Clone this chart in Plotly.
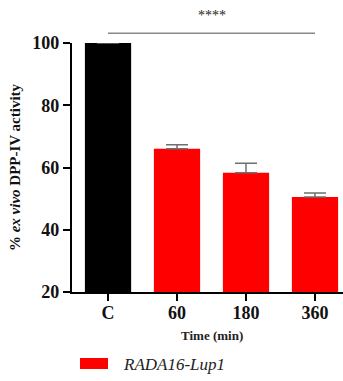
import plotly.graph_objects as go

categories = ["C", "60", "180", "360"]
values = [100.0, 66.0, 58.3, 50.5]
errors = [0.0, 1.3, 3.1, 1.3]
bar_colors = ["#000000", "#ff0000", "#ff0000", "#ff0000"]
y_ticks = [20, 40, 60, 80, 100]
series_name = "RADA16-Lup1"
sig_label = "****"
sig_level = 103.1

serif = "Liberation Serif, Times New Roman, serif"

fig = go.Figure()
fig.add_trace(go.Bar(
    x=list(range(len(categories))),
    y=values,
    width=0.67,
    marker=dict(color=bar_colors, line=dict(width=0)),
    error_y=dict(type="data", symmetric=False, array=errors,
                 arrayminus=[0] * len(errors),
                 color="#6f6f6f", thickness=1.5, width=11),
    showlegend=False,
))

# significance bar
y_lo, y_hi = 20, 100
sig_paper = (sig_level - y_lo) / (y_hi - y_lo)
fig.add_shape(type="line", xref="x", yref="paper", x0=0, x1=3,
              y0=sig_paper, y1=sig_paper,
              line=dict(color="#888888", width=1.5))
fig.add_annotation(xref="x", yref="paper", x=1.5, y=sig_paper + 0.035,
                   text=sig_label, showarrow=False, yanchor="bottom",
                   font=dict(family=serif, size=14, color="#222222"))

# x axis title
fig.add_annotation(xref="x", yref="paper", x=1.5, y=-0.175,
                   text="<b>Time (min)</b>", showarrow=False, yanchor="middle",
                   font=dict(family=serif, size=13, color="#222222"))

# legend (manual)
fig.add_shape(type="rect", xref="paper", yref="paper",
              x0=(80 - 72) / 271, x1=(108 - 72) / 271,
              y0=(292 - 369) / 249, y1=(292 - 358) / 249,
              fillcolor="#ff0000", line=dict(width=0))
fig.add_annotation(xref="paper", yref="paper", x=(121 - 72) / 271,
                   y=(292 - 364) / 249, xanchor="left", yanchor="middle",
                   text="<i>" + series_name + "</i>", showarrow=False,
                   font=dict(family=serif, size=17, color="#222222"))

fig.update_xaxes(
    range=[-0.522, 3.406], automargin=False,
    tickmode="array", tickvals=list(range(len(categories))), ticktext=categories,
    showline=True, linecolor="black", linewidth=2.2,
    ticks="outside", ticklen=7, tickwidth=2, tickcolor="black",
    tickfont=dict(family=serif, size=18, color="#111111", weight="bold"),
    ticklabelstandoff=-4,
    showgrid=False, zeroline=False,
)
fig.update_yaxes(
    range=[y_lo, y_hi], automargin=False,
    tickmode="array", tickvals=y_ticks,
    showline=True, linecolor="black", linewidth=2.2,
    ticks="outside", ticklen=7, tickwidth=2, tickcolor="black",
    tickfont=dict(family=serif, size=18, color="#111111", weight="bold"),
    showgrid=False, zeroline=False,
    title=dict(text="<b>% <i>ex vivo</i> DPP-IV activity</b>",
               font=dict(family=serif, size=15, color="#111111"), standoff=8),
)
fig.update_layout(
    width=343, height=381,
    margin=dict(l=72, r=0, t=43, b=89),
    plot_bgcolor="white", paper_bgcolor="white",
    bargap=0.33,
)
fig.write_html("out.html", config={"displayModeBar": False},
               post_script="document.body.style.margin='0';")
